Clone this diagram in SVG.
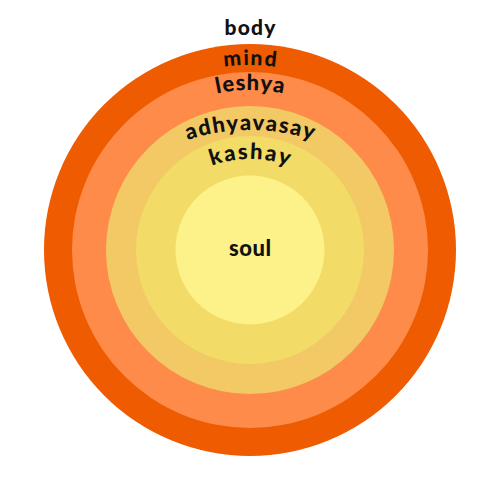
<svg xmlns="http://www.w3.org/2000/svg" xmlns:xlink="http://www.w3.org/1999/xlink" width="500" height="500" viewBox="0 0 500 500">
<style>
  .lbl { font-family: "Lato", "DejaVu Sans", sans-serif; font-weight: 900; fill: #111111; }
</style>
<defs>
  <path id="pMind" d="M 65,250 A 185 185 0 0 1 435,250"/>
  <path id="pLeshya" d="M 90,250 A 160 160 0 0 1 410,250"/>
  <path id="pAdhy" d="M 50,330 A 200 200 0 0 1 450,330"/>
  <path id="pKashay" d="M 139,270 A 111 111 0 0 1 361,270"/>
</defs>
<rect x="0" y="0" width="500" height="500" fill="#ffffff"/>
<g id="body">
  <circle cx="250" cy="250" r="206" fill="#EE5B00"/>
  <text class="lbl" x="250" y="35" font-size="21" text-anchor="middle" textLength="51" lengthAdjust="spacing">body</text>
</g>
<g id="mind">
  <circle cx="250" cy="250" r="178" fill="#FE8B49"/>
  <text class="lbl" font-size="21"><textPath xlink:href="#pMind" href="#pMind" startOffset="50%" text-anchor="middle" textLength="52" lengthAdjust="spacing">mind</textPath></text>
</g>
<g id="leshya">
  <circle cx="250" cy="250" r="144" fill="#F3C966"/>
  <text class="lbl" font-size="22"><textPath xlink:href="#pLeshya" href="#pLeshya" startOffset="50%" text-anchor="middle" textLength="67" lengthAdjust="spacing">leshya</textPath></text>
</g>
<g id="adhyavasay">
  <circle cx="250" cy="250" r="114" fill="#F2DB67"/>
  <text class="lbl" font-size="22"><textPath xlink:href="#pAdhy" href="#pAdhy" startOffset="50%" text-anchor="middle" textLength="127" lengthAdjust="spacing">adhyavasay</textPath></text>
</g>
<g id="kashay">
  <circle cx="250" cy="250" r="74.5" fill="#FDF28A"/>
  <text class="lbl" font-size="22"><textPath xlink:href="#pKashay" href="#pKashay" startOffset="50%" text-anchor="middle" textLength="78" lengthAdjust="spacing">kashay</textPath></text>
</g>
<g id="soul">
  <text class="lbl" x="250" y="256" font-size="22" text-anchor="middle" textLength="42" lengthAdjust="spacing">soul</text>
</g>
</svg>
